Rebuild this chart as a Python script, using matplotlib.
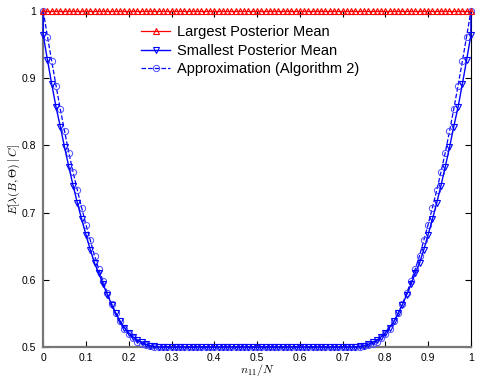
import numpy as np
import matplotlib
matplotlib.use("Agg")
import matplotlib.pyplot as plt

plt.rcParams['font.family'] = ['Liberation Sans', 'DejaVu Sans']
plt.rcParams['mathtext.fontset'] = 'cm'

N = 100
n11 = np.arange(0, N + 1)

largest = [1.0] * 101

smallest = [0.964, 0.927, 0.891, 0.857, 0.828, 0.797, 0.768, 0.740, 0.714, 0.690,
            0.667, 0.645, 0.625, 0.610, 0.593, 0.578, 0.563, 0.550, 0.538, 0.529,
            0.521, 0.515, 0.510, 0.507, 0.504, 0.502, 0.501, 0.500] + [0.5] * 45 + \
           [0.500, 0.501, 0.502, 0.504, 0.507, 0.510, 0.515, 0.521, 0.529, 0.538,
            0.550, 0.563, 0.578, 0.593, 0.610, 0.625, 0.645, 0.667, 0.690, 0.714,
            0.740, 0.768, 0.797, 0.828, 0.857, 0.891, 0.927, 0.964]
smallest_end = 1.0

approx = [1.0, 0.962, 0.925, 0.889, 0.854, 0.821, 0.789, 0.760, 0.733, 0.707,
          0.682, 0.659, 0.636, 0.616, 0.598, 0.580, 0.564, 0.550, 0.538, 0.527,
          0.519, 0.513, 0.508, 0.505, 0.503, 0.501] + [0.5] * 49 + \
         [0.501, 0.503, 0.505, 0.508, 0.513, 0.519, 0.527, 0.538, 0.550, 0.564,
          0.580, 0.598, 0.616, 0.636, 0.659, 0.682, 0.707, 0.733, 0.760, 0.789,
          0.821, 0.854, 0.889, 0.925, 0.962, 1.0]

labels = ['Largest Posterior Mean', 'Smallest Posterior Mean', 'Approximation (Algorithm 2)']
xticks = [0, 0.1, 0.2, 0.3, 0.4, 0.5, 0.6, 0.7, 0.8, 0.9, 1]
xticklabels = ['0', '0.1', '0.2', '0.3', '0.4', '0.5', '0.6', '0.7', '0.8', '0.9', '1']
yticks = [0.5, 0.6, 0.7, 0.8, 0.9, 1]
yticklabels = ['0.5', '0.6', '0.7', '0.8', '0.9', '1']

x = n11 / N

fig = plt.figure(figsize=(4.8, 3.77), dpi=100)
ax = fig.add_axes([0.09, 0.0796, 0.891, 0.8912])

xs = np.concatenate([[x[0]], x, [x[-1]]])
ys = np.concatenate([[smallest_end], smallest, [smallest_end]])

l3, = ax.plot(x, approx, '--', color=(0, 0, 1), lw=0.9, marker='o', ms=4.5,
              mfc='none', mec=(0.3, 0.3, 1), mew=0.7, label=labels[2], clip_on=False, zorder=3)
l2, = ax.plot(xs, ys, '-', color=(0, 0, 1), lw=1.0, marker='v', ms=4.5,
              mfc='none', mec=(0, 0, 1), mew=0.8, markevery=list(range(1, len(xs) - 1)),
              label=labels[1], clip_on=False, zorder=4)
l1, = ax.plot(x, largest, '-', color=(1, 0, 0), lw=0.9, marker='^', ms=4.5,
              mfc='none', mec=(1, 0, 0), mew=0.8, label=labels[0], clip_on=False, zorder=5)

ax.set_xlim(0, 1)
ax.set_ylim(0.5, 1)
ax.set_xticks(xticks)
ax.set_xticklabels(xticklabels)
ax.set_yticks(yticks)
ax.set_yticklabels(yticklabels)
ax.tick_params(direction='in', length=4, width=0.8, labelsize=7.5, top=True, right=True,
               colors='black')
ax.tick_params(axis='y', pad=5)
ax.tick_params(axis='x', pad=4)
for s in ['left', 'bottom']:
    ax.spines[s].set_color('#777777')
    ax.spines[s].set_linewidth(1.6)
for s in ['top', 'right']:
    ax.spines[s].set_color('black')
    ax.spines[s].set_linewidth(0.8)

ax.set_xlabel(r'$n_{11}/N$', fontsize=8.5)
ax.set_ylabel(r'$E[\lambda(B,\Theta)\mid C]$', fontsize=8.5)
ax.xaxis.set_label_coords(0.5, -0.069, transform=ax.transAxes)
ax.yaxis.set_label_coords(-0.068, 0.5, transform=ax.transAxes)
ax.xaxis.label.set_va('center')
ax.yaxis.label.set_va('center')

leg = ax.legend(handles=[l1, l2, l3], loc='upper left', bbox_to_anchor=(0.215, 0.975),
                frameon=False, fontsize=10.5, handlelength=2.0, handletextpad=0.5,
                labelspacing=0.3, borderaxespad=0)

fig.savefig('out.png', dpi=100)
